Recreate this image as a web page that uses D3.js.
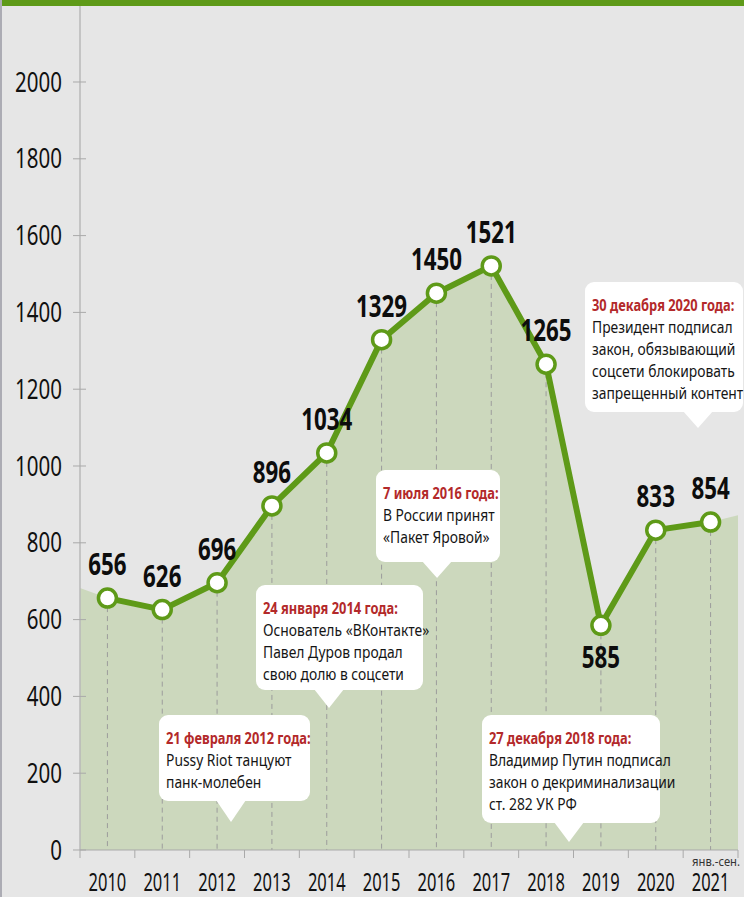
<!DOCTYPE html>
<html>
<head>
<meta charset="utf-8">
<script src="https://cdn.jsdelivr.net/npm/d3@7"></script>
<style>
  html, body { margin: 0; padding: 0; background: #e6e6e6; }
  svg { display: block; }
  text { font-family: "Noto Sans", "Open Sans", sans-serif; }
</style>
</head>
<body>
<svg id="chart" width="744" height="897"></svg>
<script>
// data
let years = ["2010", "2011", "2012", "2013", "2014", "2015", "2016", "2017", "2018", "2019", "2020", "2021"];
let values = [656, 626, 696, 896, 1034, 1329, 1450, 1521, 1265, 585, 833, 854];
let labelBelow = ["2019"];
let yTicks = [0, 200, 400, 600, 800, 1000, 1200, 1400, 1600, 1800, 2000];
// shaded area reaches the plot edges, values read at the left and right border
let areaEdges = [682, 872];

let noteTitles = ["21 февраля 2012 года:", "24 января 2014 года:", "7 июля 2016 года:",
                  "27 декабря 2018 года:", "30 декабря 2020 года:"];
let noteLines = [
    ["Pussy Riot танцуют", "панк-молебен"],
    ["Основатель «ВКонтакте»", "Павел Дуров продал", "свою долю в соцсети"],
    ["В России принят", "«Пакет Яровой»"],
    ["Владимир Путин подписал", "закон о декриминализации", "ст. 282  УК РФ"],
    ["Президент подписал", "закон, обязывающий", "соцсети блокировать", "запрещенный контент"]
];

// layout of the callout boxes (pixels)
let noteBoxes = [
    {x: 159, y: 715, w: 151, h: 86, tipX: 231, tipY: 822},
    {x: 256, y: 585, w: 167, h: 105, tipX: 329, tipY: 708},
    {x: 376, y: 470, w: 124, h: 92, tipX: 437, tipY: 578},
    {x: 482, y: 715, w: 178, h: 108, tipX: 569, tipY: 842},
    {x: 585, y: 282, w: 158, h: 130, tipX: 698, tipY: 428}
];

let green = "#5e9a18";
let svg = d3.select("#chart");

let margin = {top: 82, left: 80, right: 6, bottom: 47};
let width = 744;
let height = 897;

let x = d3.scaleBand()
    .domain(years)
    .range([margin.left, width - margin.right])
    .padding(0);

let y = d3.scaleLinear()
    .domain([0, 2000])
    .range([height - margin.bottom, margin.top]);

let cx = function(d) { return x(d) + x.bandwidth() / 2; };

// narrow type: squeeze text horizontally around its anchor point
function squeeze(sel, fx, fy, sx) {
    sel.attr("transform", function(d, i) {
        return "translate(" + fx(d, i) + "," + fy(d, i) + ") scale(" + sx + ",1)";
    });
}

// frame: top bar and left edge
svg.append("rect")
    .attr("x", 0).attr("y", 0)
    .attr("width", width).attr("height", 6)
    .style("fill", green);

svg.append("rect")
    .attr("x", 0).attr("y", 0)
    .attr("width", 2).attr("height", height)
    .style("fill", "#acacb4");

// shaded area
let areaPts = [[margin.left, areaEdges[0]]]
    .concat(years.map(function(d, i) { return [cx(d), values[i]]; }))
    .concat([[width - margin.right, areaEdges[1]]]);

let area = d3.area()
    .x(function(d) { return d[0]; })
    .y0(y(0))
    .y1(function(d) { return y(d[1]); });

svg.append("path")
    .datum(areaPts)
    .attr("d", area)
    .style("fill", "#ccd8bd");

// dashed drop lines
svg.selectAll(".drop")
    .data(years)
    .join("line")
    .attr("class", "drop")
    .attr("x1", cx).attr("x2", cx)
    .attr("y1", function(d, i) { return y(values[i]); })
    .attr("y2", y(0))
    .style("stroke", "#9c9c9c")
    .style("stroke-width", 1)
    .style("stroke-dasharray", "5,4");

// y axis
svg.append("line")
    .attr("x1", margin.left).attr("x2", margin.left)
    .attr("y1", 6).attr("y2", y(0))
    .style("stroke", "#b9b9b9")
    .style("stroke-width", 1.5);

svg.selectAll(".ytick")
    .data(yTicks)
    .join("line")
    .attr("class", "ytick")
    .attr("x1", margin.left - 7).attr("x2", margin.left + 6)
    .attr("y1", function(d) { return y(d); })
    .attr("y2", function(d) { return y(d); })
    .style("stroke", "#a9a9a9")
    .style("stroke-width", 1);

svg.selectAll(".ylabel")
    .data(yTicks)
    .join("text")
    .attr("class", "ylabel")
    .attr("text-anchor", "end")
    .style("font-size", "27px")
    .style("fill", "#111")
    .text(function(d) { return d; })
    .call(squeeze, function() { return 62; }, function(d) { return y(d) + 9.5; }, 0.76);

// x axis
svg.append("line")
    .attr("x1", margin.left).attr("x2", width - margin.right)
    .attr("y1", y(0)).attr("y2", y(0))
    .style("stroke", "#a9a9a9")
    .style("stroke-width", 1);

let bounds = years.map(function(d) { return x(d); }).concat([width - margin.right]);

svg.selectAll(".xtick")
    .data(bounds)
    .join("line")
    .attr("class", "xtick")
    .attr("x1", function(d) { return d; }).attr("x2", function(d) { return d; })
    .attr("y1", y(0)).attr("y2", y(0) + 8)
    .style("stroke", "#a9a9a9")
    .style("stroke-width", 1);

svg.selectAll(".xlabel")
    .data(years)
    .join("text")
    .attr("class", "xlabel")
    .attr("text-anchor", "middle")
    .style("font-size", "25px")
    .style("fill", "#111")
    .text(function(d) { return d; })
    .call(squeeze, cx, function() { return 891; }, 0.66);

svg.append("text")
    .attr("text-anchor", "end")
    .style("font-size", "12.5px")
    .style("fill", "#333")
    .text("янв.-сен.")
    .call(squeeze, function() { return 740; }, function() { return 866; }, 0.9);

// line + points
let line = d3.line()
    .x(function(d, i) { return cx(years[i]); })
    .y(function(d) { return y(d); });

svg.append("path")
    .datum(values)
    .attr("d", line)
    .style("fill", "none")
    .style("stroke", green)
    .style("stroke-width", 6)
    .style("stroke-linejoin", "round");

svg.selectAll(".dot")
    .data(values)
    .join("circle")
    .attr("class", "dot")
    .attr("cx", function(d, i) { return cx(years[i]); })
    .attr("cy", function(d) { return y(d); })
    .attr("r", 9)
    .style("fill", "white")
    .style("stroke", green)
    .style("stroke-width", 3.5);

svg.selectAll(".vlabel")
    .data(values)
    .join("text")
    .attr("class", "vlabel")
    .attr("text-anchor", "middle")
    .style("font-size", "31px")
    .style("font-weight", "bold")
    .style("fill", "#0d0d0d")
    .text(function(d) { return d; })
    .call(squeeze,
          function(d, i) { return cx(years[i]); },
          function(d, i) { return labelBelow.includes(years[i]) ? y(d) + 43 : y(d) - 23; },
          0.72);

// callouts
let notes = svg.selectAll(".note")
    .data(noteBoxes)
    .join("g")
    .attr("class", "note");

notes.append("rect")
    .attr("x", function(d) { return d.x; })
    .attr("y", function(d) { return d.y; })
    .attr("width", function(d) { return d.w; })
    .attr("height", function(d) { return d.h; })
    .attr("rx", 9)
    .style("fill", "white");

notes.append("path")
    .attr("d", function(d) {
        return "M" + (d.tipX - 15) + "," + (d.y + d.h - 1) +
               "L" + d.tipX + "," + d.tipY +
               "L" + (d.tipX + 15) + "," + (d.y + d.h - 1) + "Z";
    })
    .style("fill", "white");

notes.append("text")
    .style("font-size", "16.5px")
    .style("font-weight", "bold")
    .style("fill", "#b3292a")
    .text(function(d, i) { return noteTitles[i]; })
    .call(squeeze, function(d) { return d.x + 7; }, function(d) { return d.y + 29; }, 0.78);

notes.each(function(d, i) {
    d3.select(this).selectAll(".body")
        .data(noteLines[i])
        .join("text")
        .attr("class", "body")
        .style("font-size", "16.5px")
        .style("fill", "#151515")
        .text(function(t) { return t; })
        .call(squeeze, function() { return d.x + 7; },
              function(t, j) { return d.y + 29 + 22 * (j + 1); }, 0.84);
});
</script>
</body>
</html>
